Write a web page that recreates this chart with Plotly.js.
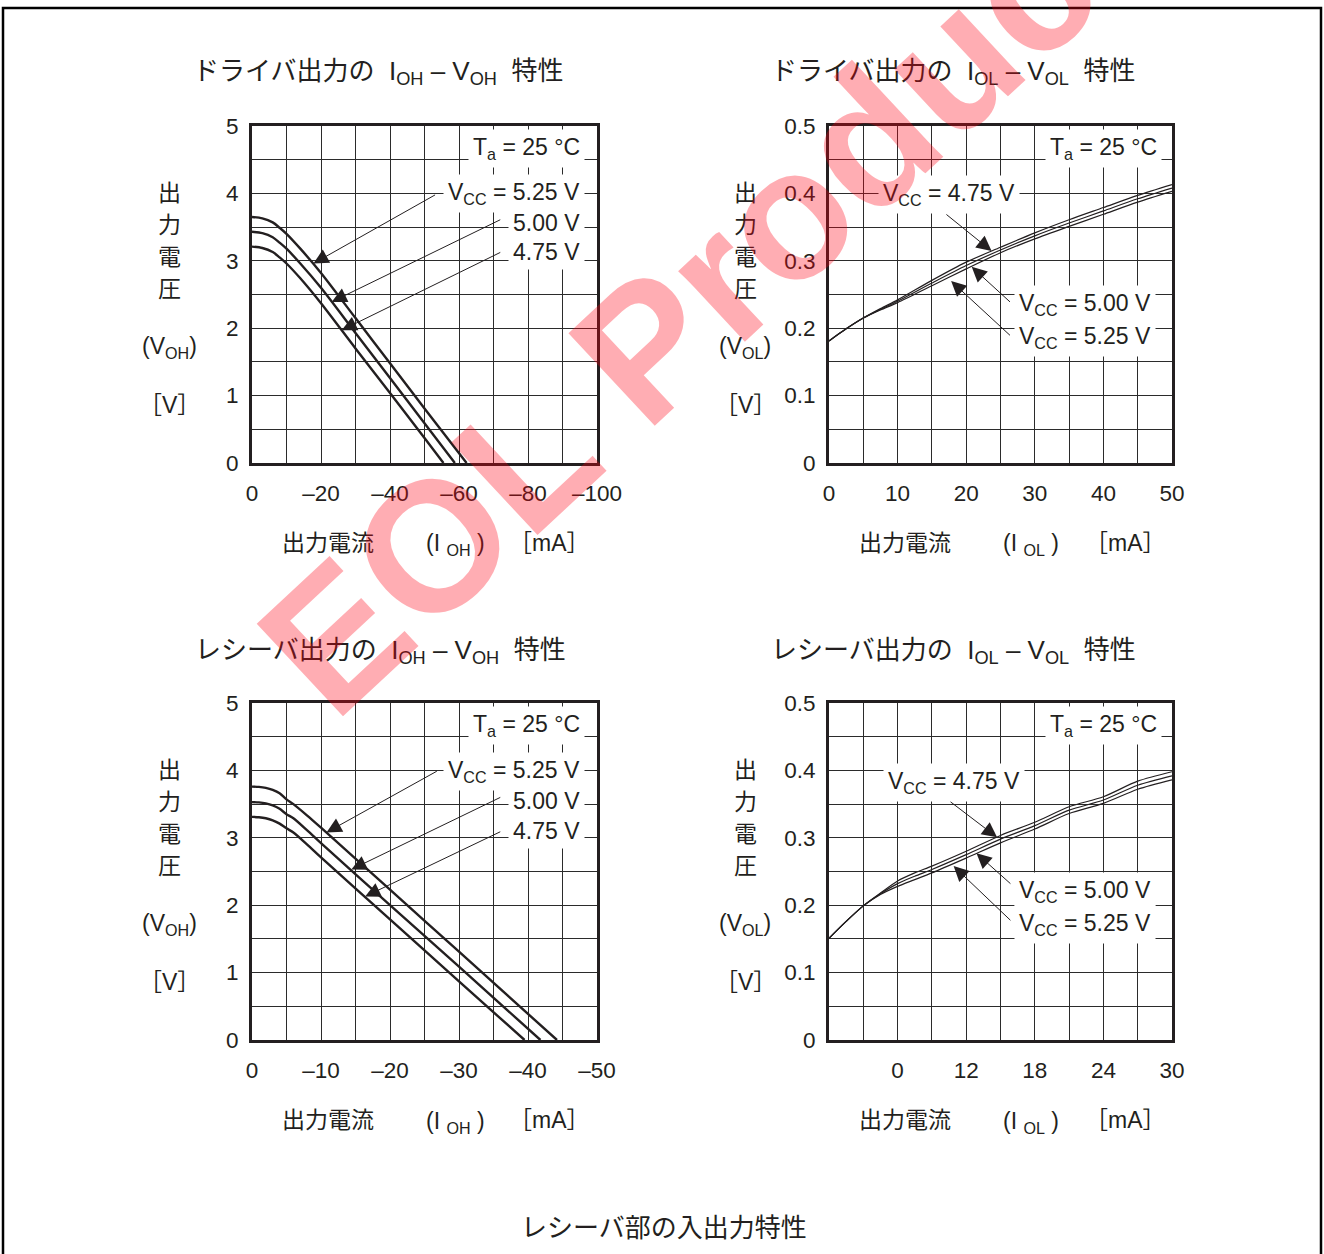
<!DOCTYPE html>
<html>
<head>
<meta charset="utf-8">
<script src="https://cdn.plot.ly/plotly-3.0.1.min.js"></script>
<style>
html,body{margin:0;padding:0;background:#fff;}
#chart{width:1324px;height:1254px;}
</style>
</head>
<body>
<div id="chart"></div>
<script>
// ---------------- DATA ----------------
// Driver output IOH - VOH (mA, V)
const DRV_OH_I_525 = [0, -3, -6, -8, -10, -14, -20, -30, -40, -50, -62.2];
const DRV_OH_V_525 = [3.65, 3.63, 3.57, 3.49, 3.40, 3.18, 2.82, 2.15, 1.48, 0.81, 0];
const DRV_OH_I_500 = [0, -3, -6, -8, -10, -14, -20, -30, -40, -50, -58.8];
const DRV_OH_V_500 = [3.43, 3.41, 3.35, 3.27, 3.18, 2.96, 2.60, 1.93, 1.26, 0.59, 0];
const DRV_OH_I_475 = [0, -3, -6, -8, -10, -14, -20, -30, -40, -50, -55.5];
const DRV_OH_V_475 = [3.21, 3.19, 3.13, 3.05, 2.96, 2.74, 2.37, 1.70, 1.04, 0.37, 0];

// Driver output IOL - VOL
const DRV_OL_I = [0, 2.5, 5, 7.5, 10, 15, 20, 25, 30, 35, 40, 45, 50];
const DRV_OL_V_475 = [0.181, 0.199, 0.215, 0.229, 0.242, 0.271, 0.298, 0.320, 0.3415, 0.361, 0.379, 0.397, 0.413];
const DRV_OL_V_500 = [0.181, 0.199, 0.215, 0.228, 0.240, 0.267, 0.293, 0.316, 0.337, 0.356, 0.374, 0.392, 0.408];
const DRV_OL_V_525 = [0.181, 0.199, 0.215, 0.227, 0.238, 0.263, 0.288, 0.312, 0.3325, 0.351, 0.369, 0.387, 0.403];

// Receiver output IOH - VOH
const RCV_OH_I_525 = [0, -1, -2, -3, -4, -5, -6, -8, -10, -20, -30, -44.2];
const RCV_OH_V_525 = [3.76, 3.755, 3.74, 3.71, 3.66, 3.57, 3.50, 3.33, 3.15, 2.23, 1.31, 0];
const RCV_OH_I_500 = [0, -1, -2, -3, -4, -5, -6, -8, -10, -20, -30, -41.8];
const RCV_OH_V_500 = [3.53, 3.525, 3.51, 3.48, 3.43, 3.35, 3.29, 3.11, 2.92, 2.00, 1.09, 0];
const RCV_OH_I_475 = [0, -1, -2, -3, -4, -5, -6, -8, -10, -20, -30, -39.5];
const RCV_OH_V_475 = [3.31, 3.305, 3.29, 3.26, 3.21, 3.14, 3.08, 2.90, 2.71, 1.79, 0.87, 0];

// Receiver output IOL - VOL
const RCV_OL_I = [0, 1.5, 3, 4.5, 6, 7.5, 9, 12, 15, 18, 21, 24, 27, 30];
const RCV_OL_V_475 = [0.151, 0.176, 0.199, 0.218, 0.236, 0.248, 0.258, 0.280, 0.3035, 0.323, 0.346, 0.361, 0.384, 0.398];
const RCV_OL_V_500 = [0.151, 0.176, 0.199, 0.217, 0.232, 0.243, 0.253, 0.275, 0.298, 0.318, 0.341, 0.356, 0.378, 0.392];
const RCV_OL_V_525 = [0.151, 0.176, 0.199, 0.216, 0.228, 0.238, 0.248, 0.270, 0.2925, 0.313, 0.336, 0.351, 0.372, 0.386];

// Ticks
const TL_XVALS = [0, -10, -20, -30, -40, -50, -60, -70, -80, -90, -100];
const TL_XTEXT = ['0', '', '–20', '', '–40', '', '–60', '', '–80', '', '–100'];
const TR_XVALS = [0, 5, 10, 15, 20, 25, 30, 35, 40, 45, 50];
const TR_XTEXT = ['0', '', '10', '', '20', '', '30', '', '40', '', '50'];
const BL_XVALS = [0, -5, -10, -15, -20, -25, -30, -35, -40, -45, -50];
const BL_XTEXT = ['0', '', '–10', '', '–20', '', '–30', '', '–40', '', '–50'];
const BR_XVALS = [0, 3, 6, 9, 12, 15, 18, 21, 24, 27, 30];
const BR_XTEXT = ['', '', '0', '', '12', '', '18', '', '24', '', '30'];
const VOH_YVALS = [0, 0.5, 1, 1.5, 2, 2.5, 3, 3.5, 4, 4.5, 5];
const VOH_YTEXT = ['0', '', '1', '', '2', '', '3', '', '4', '', '5'];
const VOL_YVALS = [0, 0.05, 0.1, 0.15, 0.2, 0.25, 0.3, 0.35, 0.4, 0.45, 0.5];
const VOL_YTEXT = ['0', '', '0.1', '', '0.2', '', '0.3', '', '0.4', '', '0.5'];

// Texts
const TITLES = [
  'ドライバ出力の  I<sub>OH</sub> – V<sub>OH</sub>  特性',
  'ドライバ出力の  I<sub>OL</sub> – V<sub>OL</sub>  特性',
  'レシーバ出力の  I<sub>OH</sub> – V<sub>OH</sub>  特性',
  'レシーバ出力の  I<sub>OL</sub> – V<sub>OL</sub>  特性'
];
const Y_CHARS = ['出', '力', '電', '圧'];
const CAPTION = 'レシーバ部の入出力特性';
const WATERMARK = 'EOL Product';

// ---------------- LAYOUT ----------------
const W = 1324, H = 1254;
const px = v => v / W;
const py = v => 1 - v / H;
const FONT = 'Liberation Sans, Arial, Noto Sans CJK JP, sans-serif';
const INK = '#231f20';

function xAxis(l, r, range, vals, text, anchor) {
  return {
    domain: [px(l), px(r)], range: range, anchor: anchor,
    tickmode: 'array', tickvals: vals, ticktext: text,
    showgrid: true, gridcolor: '#2b2b2b', gridwidth: 1,
    showline: true, mirror: true, linecolor: INK, linewidth: 3,
    zeroline: false, ticks: '', ticklabelstandoff: 8,
    tickfont: {family: FONT, size: 22.5, color: INK}, fixedrange: true
  };
}
function yAxis(t, b, range, vals, text, anchor) {
  return {
    domain: [py(b), py(t)], range: range, anchor: anchor,
    tickmode: 'array', tickvals: vals, ticktext: text,
    showgrid: true, gridcolor: '#2b2b2b', gridwidth: 1,
    showline: true, mirror: true, linecolor: INK, linewidth: 3,
    zeroline: false, ticks: '', ticklabelstandoff: 6,
    tickfont: {family: FONT, size: 22.5, color: INK}, fixedrange: true
  };
}

function line(x, y, xa, ya, w) {
  return {
    type: 'scatter', mode: 'lines', x: x, y: y, xaxis: xa, yaxis: ya,
    line: {color: INK, width: w, shape: 'spline', smoothing: 0.8},
    hoverinfo: 'skip', showlegend: false
  };
}

const data = [
  line(DRV_OH_I_525, DRV_OH_V_525, 'x', 'y', 2.4),
  line(DRV_OH_I_500, DRV_OH_V_500, 'x', 'y', 2.4),
  line(DRV_OH_I_475, DRV_OH_V_475, 'x', 'y', 2.4),
  line(DRV_OL_I, DRV_OL_V_475, 'x2', 'y2', 1.2),
  line(DRV_OL_I, DRV_OL_V_500, 'x2', 'y2', 1.2),
  line(DRV_OL_I, DRV_OL_V_525, 'x2', 'y2', 1.2),
  line(RCV_OH_I_525, RCV_OH_V_525, 'x3', 'y3', 2.4),
  line(RCV_OH_I_500, RCV_OH_V_500, 'x3', 'y3', 2.4),
  line(RCV_OH_I_475, RCV_OH_V_475, 'x3', 'y3', 2.4),
  line(RCV_OL_I, RCV_OL_V_475, 'x4', 'y4', 1.2),
  line(RCV_OL_I, RCV_OL_V_500, 'x4', 'y4', 1.2),
  line(RCV_OL_I, RCV_OL_V_525, 'x4', 'y4', 1.2)
];

const ann = [];
function txt(x, y, text, size, opts) {
  ann.push(Object.assign({
    xref: 'paper', yref: 'paper', x: px(x), y: py(y), text: text,
    showarrow: false, xanchor: 'center', yanchor: 'middle',
    font: {family: FONT, size: size, color: INK}
  }, opts || {}));
}
function arrow(xa, ya, tipx, tipy, tailx, taily) {
  ann.push({
    xref: xa, yref: ya, axref: xa, ayref: ya,
    x: tipx, y: tipy, ax: tailx, ay: taily, text: '',
    showarrow: true, arrowhead: 2, arrowsize: 3, arrowwidth: 1,
    arrowcolor: INK, standoff: 0, startstandoff: 0
  });
}
const boxed = {bgcolor: '#ffffff', borderpad: 4};

// titles
txt(378, 73, TITLES[0], 26);
txt(953, 73, TITLES[1], 26);
txt(380, 651, TITLES[2], 26);
txt(953, 651, TITLES[3], 26);

// axis labels per panel
const panels = [
  {yx: 169, top: 0, sub: 'OH', xc: [328, 455, 549], ta: 526},
  {yx: 745, top: 0, sub: 'OL', xc: [905, 1031, 1125], ta: 1103},
  {yx: 169, top: 577, sub: 'OH', xc: [328, 455, 549], ta: 526},
  {yx: 745, top: 577, sub: 'OL', xc: [905, 1031, 1125], ta: 1103}
];
panels.forEach(p => {
  Y_CHARS.forEach((c, i) => txt(p.yx, 193 + 32 * i + p.top, c, 23));
  txt(p.yx, 347 + p.top, '(V<sub>' + p.sub + '</sub>)', 23);
  txt(p.yx, 405 + p.top, '［V］', 23);
  txt(p.xc[0], 543 + p.top, '出力電流', 23);
  txt(p.xc[1], 545 + p.top, '(I <sub>' + p.sub + '</sub> )', 23);
  txt(p.xc[2], 543 + p.top, '［mA］', 23);
  txt(p.ta, 148 + p.top, 'T<sub>a</sub> = 25 °C', 23, boxed);
});

// VCC labels left panels
const rightBox = Object.assign({xanchor: 'right'}, boxed);
txt(585, 194, 'V<sub>CC</sub> = 5.25 V', 23, rightBox);
txt(585, 223, '5.00 V', 23, rightBox);
txt(585, 252, '4.75 V', 23, rightBox);
txt(585, 771, 'V<sub>CC</sub> = 5.25 V', 23, rightBox);
txt(585, 801, '5.00 V', 23, rightBox);
txt(585, 831, '4.75 V', 23, rightBox);
// VCC labels right panels
txt(949, 195, 'V<sub>CC</sub> = 4.75 V', 23, boxed);
txt(1085, 304, 'V<sub>CC</sub> = 5.00 V', 23, boxed);
txt(1085, 337, 'V<sub>CC</sub> = 5.25 V', 23, boxed);
txt(954, 782, 'V<sub>CC</sub> = 4.75 V', 23, boxed);
txt(1085, 891, 'V<sub>CC</sub> = 5.00 V', 23, boxed);
txt(1085, 924, 'V<sub>CC</sub> = 5.25 V', 23, boxed);

// leader arrows
arrow('x', 'y', -17.8, 2.96, -53.5, 3.99);
arrow('x', 'y', -23.1, 2.39, -72.4, 3.62);
arrow('x', 'y', -26.0, 1.97, -72.4, 3.135);
arrow('x3', 'y3', -10.8, 3.08, -27.0, 4.0);
arrow('x3', 'y3', -14.4, 2.53, -36.2, 3.61);
arrow('x3', 'y3', -16.4, 2.13, -36.2, 3.10);
arrow('x2', 'y2', 23.7, 0.3145, 16.9, 0.3705);
arrow('x2', 'y2', 20.8, 0.291, 26.6, 0.237);
arrow('x2', 'y2', 17.8, 0.270, 26.6, 0.1874);
arrow('x4', 'y4', 14.7, 0.3007, 10.5, 0.355);
arrow('x4', 'y4', 12.9, 0.277, 16.0, 0.230);
arrow('x4', 'y4', 10.9, 0.258, 16.0, 0.1755);

// caption
txt(664, 1228, CAPTION, 26);

// watermark
ann.push({
  xref: 'paper', yref: 'paper', x: px(700), y: py(296), text: WATERMARK,
  showarrow: false, textangle: -43, xanchor: 'center', yanchor: 'middle',
  font: {family: 'Liberation Sans, Arial, sans-serif', size: 184, weight: 'bold', color: 'rgba(255,0,20,0.32)'}
});

const layout = {
  width: W, height: H,
  margin: {l: 0, r: 0, t: 0, b: 0},
  paper_bgcolor: '#ffffff', plot_bgcolor: '#ffffff',
  showlegend: false,
  font: {family: FONT, color: INK},
  xaxis: xAxis(252, 597, [0, -100], TL_XVALS, TL_XTEXT, 'y'),
  yaxis: yAxis(126, 463, [0, 5], VOH_YVALS, VOH_YTEXT, 'x'),
  xaxis2: xAxis(829, 1172, [0, 50], TR_XVALS, TR_XTEXT, 'y2'),
  yaxis2: yAxis(126, 463, [0, 0.5], VOL_YVALS, VOL_YTEXT, 'x2'),
  xaxis3: xAxis(252, 597, [0, -50], BL_XVALS, BL_XTEXT, 'y3'),
  yaxis3: yAxis(703, 1040, [0, 5], VOH_YVALS, VOH_YTEXT, 'x3'),
  xaxis4: xAxis(829, 1172, [0, 30], BR_XVALS, BR_XTEXT, 'y4'),
  yaxis4: yAxis(703, 1040, [0, 0.5], VOL_YVALS, VOL_YTEXT, 'x4'),
  annotations: ann,
  shapes: [{
    type: 'rect', xref: 'paper', yref: 'paper',
    x0: px(3), x1: px(1321), y0: py(1264), y1: py(8),
    line: {color: '#000', width: 2.5}, fillcolor: 'rgba(0,0,0,0)'
  }]
};

Plotly.newPlot('chart', data, layout, {staticPlot: true, displayModeBar: false});
</script>
</body>
</html>
